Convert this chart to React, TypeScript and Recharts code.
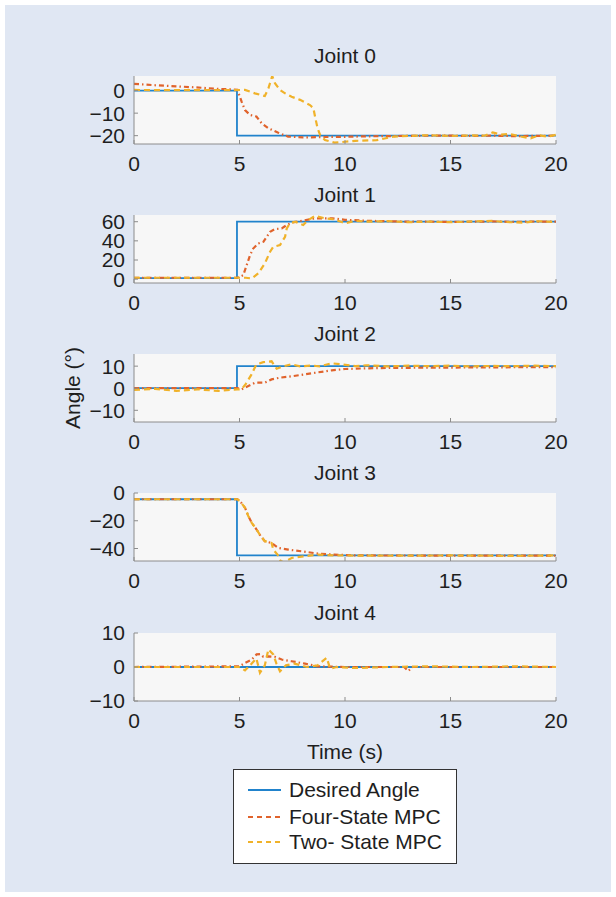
import { LineChart, Line, XAxis, YAxis, CartesianGrid } from 'recharts';

type Pt = [number, number];

// time axis (s)
const timeTicks = [0, 5, 10, 15, 20];

// Joint 0
const joint0Desired: Pt[] = [[0, 0], [4.88, 0], [4.88, -20], [20, -20]];
const joint0Four: Pt[] = [
  [0, 3], [1, 2.4], [2, 1.9], [2.8, 1.5], [4, 0.8], [4.9, 0.4], [5.1, -4.9], [5.26, -8.6], [5.5, -10.8],
  [5.8, -11.5], [6.05, -14.5], [6.37, -16.7], [6.84, -18.7], [7.3, -20.4], [8, -20.8], [9, -20.6],
  [10, -20.5], [11, -20.3], [12, -20.2], [13, -20.1], [14, -20], [15, -20], [16, -20.1], [17, -20],
  [18, -20.2], [19, -20.1], [20, -20],
];
const joint0Two: Pt[] = [
  [0, 0.3], [2, 0.2], [4, 0.2], [5.26, 0.3], [5.73, -1.2], [6.2, -2.4], [6.37, 1], [6.55, 6.5], [6.68, 3.3],
  [6.92, 0.3], [7.16, -1.2], [7.47, -2.7], [7.87, -4.1], [8.34, -6.4], [8.5, -7.8], [8.58, -11.5],
  [8.7, -16.7], [8.82, -19.7], [9.05, -21.9], [9.5, -23.1], [10, -22.7], [10.5, -22.3], [11.5, -22],
  [12.3, -20.4], [13, -20.1], [14, -19.8], [15, -20.1], [16, -19.9], [16.6, -20], [17, -18.6],
  [17.4, -19.5], [17.8, -19.2], [18.3, -20.3], [18.8, -21.2], [19.2, -19.8], [19.6, -20.4], [20, -19.6],
];

// Joint 1
const joint1Desired: Pt[] = [[0, 1], [4.88, 1], [4.88, 60], [20, 60]];
const joint1Four: Pt[] = [
  [0, 1.5], [4.9, 1.5], [5.18, 4.2], [5.34, 14.7], [5.5, 25], [5.65, 32], [5.89, 37.3], [6.13, 39],
  [6.29, 44.3], [6.45, 49.5], [6.68, 52.3], [7, 53], [7.24, 56.5], [7.47, 59], [7.95, 61], [8.58, 63.5],
  [9.4, 63.5], [10, 62], [11, 61], [12, 60.5], [13, 60], [14, 60], [15, 59.8], [16, 60], [17, 60.3],
  [18, 59.8], [19, 60.2], [20, 60],
];
const joint1Two: Pt[] = [
  [0, 1.5], [5.3, 1.5], [5.58, 0.7], [5.89, 6], [6.2, 16.4], [6.45, 28.6], [6.6, 33.8], [6.92, 35.6],
  [7.16, 44.3], [7.24, 53], [7.39, 58.3], [7.63, 60], [8.02, 56.5], [8.26, 61.8], [8.58, 66], [9.05, 63.5],
  [9.5, 62.5], [10, 58.3], [10.5, 61], [11, 60], [12, 60.5], [13, 59.5], [14, 60], [15, 59.5], [16, 60.2],
  [17, 60.8], [17.5, 59.8], [18.5, 59], [19, 60.5], [20, 59.8],
];

// Joint 2
const joint2Desired: Pt[] = [[0, 0], [4.88, 0], [4.88, 10], [20, 10]];
const joint2Four: Pt[] = [
  [0, 0], [4.9, 0], [5.1, -0.5], [5.42, 1], [5.73, 2.5], [6.2, 2.5], [6.52, 4], [6.92, 4.8], [7.47, 5.4],
  [8.1, 6.3], [8.73, 7.2], [9.37, 8.1], [10, 8.7], [11, 9], [12, 9.2], [13.9, 9.3], [16, 9.4], [18, 9.5],
  [20, 9.5],
];
const joint2Two: Pt[] = [
  [0, -0.8], [1, -0.3], [2, -1.2], [3, -0.5], [4, -1.2], [4.9, -0.5], [5.1, -0.5], [5.3, 2], [5.55, 5.9],
  [5.8, 10.8], [6.13, 11.8], [6.52, 12.2], [6.76, 8.8], [7.07, 9.9], [7.47, 10.8], [7.87, 9.9],
  [8.41, 10.3], [8.8, 9.9], [9.37, 11.3], [9.84, 10.8], [10.5, 10], [11, 10.4], [12, 9.9], [13, 10.2],
  [14, 10], [15, 10.2], [16, 9.9], [17, 10.1], [18, 10], [19, 10.2], [20, 10],
];

// Joint 3
const joint3Desired: Pt[] = [[0, -4.5], [4.88, -4.5], [4.88, -45], [20, -45]];
const joint3Four: Pt[] = [
  [0, -4.5], [4.9, -4.5], [5.02, -5.8], [5.26, -10.6], [5.42, -16.7], [5.58, -21.5], [5.81, -26.3],
  [6, -31], [6.2, -34.7], [6.52, -36], [6.84, -39.6], [7.31, -40.8], [7.95, -42], [8.73, -43.7],
  [9.5, -44.4], [10.5, -45], [20, -45.2],
];
const joint3Two: Pt[] = [
  [0, -4.5], [4.9, -4.5], [5.02, -5.8], [5.26, -10.6], [5.42, -16.7], [5.58, -21.5], [5.81, -26.3],
  [6, -31], [6.2, -34.7], [6.52, -36], [6.6, -40.8], [6.8, -44.4], [6.95, -49], [7.1, -50], [7.47, -46.8],
  [8.1, -45.6], [8.73, -44.4], [9.5, -45], [12, -45.2], [15, -45], [18, -45.3], [20, -45],
];

// Joint 4
const joint4Desired: Pt[] = [[0, 0], [20, 0]];
const joint4Four: Pt[] = [
  [0, 0], [5, 0.2], [5.26, 1.2], [5.58, 2.2], [5.81, 3.7], [6, 3.8], [6.13, 3], [6.37, 3.1], [6.68, 3],
  [7, 2.2], [7.47, 1.7], [8.1, 1], [8.7, 0.2], [10, 0], [12.8, 0], [13, -1.2], [13.2, 0], [20, 0],
];
const joint4Two: Pt[] = [
  [0, 0], [5, 0], [5.26, -1], [5.5, 0.5], [5.8, 2.5], [5.97, -1.7], [6.2, 0.5], [6.37, 5.2], [6.6, 3.7],
  [6.75, 1], [6.92, -1.3], [7.2, 0.5], [7.6, 1], [8.2, 0], [8.7, 0.5], [9.13, 2.7], [9.3, -0.5], [9.6, 0],
  [10.5, -0.3], [12, 0], [14, 0.2], [16, 0], [18, 0.2], [20, 0],
];

const joints = [
  { title: 'Joint 0', desired: joint0Desired, four: joint0Four, two: joint0Two, domain: [-23.7, 6.5], ticks: [-20, -10, 0] },
  { title: 'Joint 1', desired: joint1Desired, four: joint1Four, two: joint1Two, domain: [-4, 67], ticks: [0, 20, 40, 60] },
  { title: 'Joint 2', desired: joint2Desired, four: joint2Four, two: joint2Two, domain: [-15.3, 15.5], ticks: [-10, 0, 10] },
  { title: 'Joint 3', desired: joint3Desired, four: joint3Four, two: joint3Two, domain: [-49, 0], ticks: [-40, -20, 0] },
  { title: 'Joint 4', desired: joint4Desired, four: joint4Four, two: joint4Two, domain: [-10, 10], ticks: [-10, 0, 10] },
];

const BLUE = '#2183cc';
const RED = '#e0632c';
const YELLOW = '#f0b22a';
const BOX = '#8c8c8c';
const FONT = '"Liberation Sans", Arial, sans-serif';
const TEXT = '#1e1e1e';

const plotTops = [76, 215, 354, 493, 633];
const PLOT_L = 134;
const PLOT_R = 556;
const PAD = 18;

const toRows = (pts: Pt[]) => pts.map(([t, v]) => ({ t, v }));
const fmt = (v: number) => String(v).replace('-', '\u2212');

function JointPlot({ joint, top }: { joint: (typeof joints)[number]; top: number }) {
  const tickStyle = { fontSize: 21, fill: TEXT, fontFamily: FONT };
  return (
    <>
      <div
        style={{
          position: 'absolute', left: PLOT_L, width: PLOT_R - PLOT_L, top: top - 33, textAlign: 'center',
          fontSize: 21, fontFamily: FONT, color: TEXT, lineHeight: '26px',
        }}
      >
        {joint.title}
      </div>
      <div style={{ position: 'absolute', left: 0, top: top - PAD }}>
        <LineChart width={616} height={PAD + 68 + 40} margin={{ top: PAD, right: 616 - PLOT_R, left: PLOT_L - 60, bottom: 0 }}>
          <CartesianGrid fill="#f7f7f7" horizontal={false} vertical={false} />
          <XAxis
            type="number" dataKey="t" domain={[0, 20]} ticks={timeTicks} interval={0} height={40}
            tickSize={-4} tickMargin={16} tick={tickStyle} stroke={BOX} tickFormatter={fmt}
          />
          <XAxis
            xAxisId="top" orientation="top" type="number" dataKey="t" domain={[0, 20]} ticks={timeTicks}
            interval={0} height={0} tickSize={-4} tick={false} stroke={BOX}
          />
          <YAxis
            type="number" domain={joint.domain} ticks={joint.ticks} interval={0} width={60} allowDataOverflow
            tickSize={-4} tickMargin={13} tick={tickStyle} stroke={BOX} tickFormatter={fmt}
          />
          <YAxis
            yAxisId="r" orientation="right" type="number" domain={joint.domain} ticks={joint.ticks} interval={0}
            width={0} allowDataOverflow tickSize={-4} tick={false} stroke={BOX}
          />
          <Line data={toRows(joint.desired)} dataKey="v" type="linear" dot={false} stroke={BLUE} strokeWidth={1.8} isAnimationActive={false} />
          <Line data={toRows(joint.four)} dataKey="v" type="linear" dot={false} stroke={RED} strokeWidth={2.2} strokeDasharray="5 3 1.5 3" isAnimationActive={false} />
          <Line data={toRows(joint.two)} dataKey="v" type="linear" dot={false} stroke={YELLOW} strokeWidth={2.2} strokeDasharray="6 4" isAnimationActive={false} />
        </LineChart>
      </div>
    </>
  );
}

function LegendRow({ color, dash, label, y }: { color: string; dash?: string; label: string; y: number }) {
  return (
    <div style={{ position: 'absolute', left: 0, top: y - 13, height: 26, display: 'flex', alignItems: 'center' }}>
      <svg width={54} height={26}>
        <line x1={14} y1={13} x2={47} y2={13} stroke={color} strokeWidth={2} strokeDasharray={dash} />
      </svg>
      <span style={{ fontSize: 21, fontFamily: FONT, color: TEXT, marginLeft: 1 }}>{label}</span>
    </div>
  );
}

export default function App() {
  return (
    <div style={{ position: 'absolute', left: 0, top: 0, width: 616, height: 897, background: '#fff' }}>
      <div style={{ position: 'absolute', left: 5, top: 5, width: 606, height: 887, background: '#e0e7f3' }} />
      {joints.map((j, i) => (
        <JointPlot key={j.title} joint={j} top={plotTops[i]} />
      ))}
      <div
        style={{
          position: 'absolute', left: 73 - 60, top: 388 - 13, width: 120, height: 26, textAlign: 'center',
          transform: 'rotate(-90deg)', fontSize: 21, fontFamily: FONT, color: TEXT, lineHeight: '26px',
        }}
      >
        Angle (°)
      </div>
      <div
        style={{
          position: 'absolute', left: PLOT_L, width: PLOT_R - PLOT_L, top: 752 - 13, textAlign: 'center',
          fontSize: 21, fontFamily: FONT, color: TEXT, lineHeight: '26px',
        }}
      >
        Time (s)
      </div>
      <div
        style={{
          position: 'absolute', left: 233, top: 769, width: 222, height: 93, background: '#fff',
          border: '1px solid #333',
        }}
      >
        <LegendRow color={BLUE} label="Desired Angle" y={20} />
        <LegendRow color={RED} dash="5 4" label="Four-State MPC" y={47} />
        <LegendRow color={YELLOW} dash="5 4" label="Two- State MPC" y={72} />
      </div>
    </div>
  );
}
